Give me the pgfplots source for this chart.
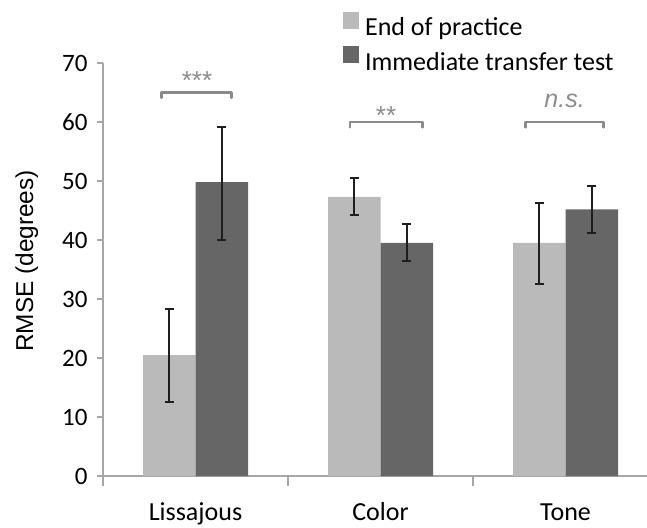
\documentclass[border=0pt]{standalone}
\usepackage{pgfplots}
\pgfplotsset{compat=1.18}
\usepackage{pgfplotstable}
\usepackage{fontspec}
\setmainfont{Carlito}
\newfontfamily\arial{Liberation Sans}
\definecolor{lightbar}{HTML}{BABABA}
\definecolor{darkbar}{HTML}{666666}
\definecolor{axisgray}{HTML}{A6A6A6}
\definecolor{brgray}{HTML}{8A8A8A}
\definecolor{txtgray}{HTML}{8C8C8C}
\definecolor{errc}{HTML}{1E1E1E}

\pgfplotstableread{
x y ep em
0 20.5 7.8 7.9
1 47.3 3.2 3.1
2 39.5 6.8 7.0
}\lighttab
\pgfplotstableread{
x y ep em
0 49.8 9.4 9.8
1 39.5 3.2 3.1
2 45.2 3.9 4.0
}\darktab

\begin{document}
\begin{tikzpicture}
\begin{axis}[
  at={(0,0)}, anchor=south west,
  scale only axis, width=544pt, height=413pt,
  xmin=-0.5, xmax=2.4405, ymin=0, ymax=70,
  clip=false,
  ybar, bar width=52.5pt,
  axis x line*=bottom, axis y line*=left,
  axis line style={draw=axisgray, line width=1.5pt, -},
  xtick={0,1,2}, xticklabels={Lissajous,Color,Tone},
  x tick style={draw=none},
  extra x ticks={-0.5,0.5,1.5},
  extra x tick labels={},
  extra x tick style={major tick length=10pt, x tick style={draw=axisgray, line width=1.5pt}},
  ytick={0,10,...,70},
  y tick style={draw=axisgray, line width=1.5pt},
  tick align=outside, major tick length=6pt,
  /pgf/number format/assume math mode=true,
  yticklabel style={font=\fontsize{25}{28}\selectfont, xshift=-6pt},
  xticklabel style={font=\fontsize{26}{30}\selectfont, anchor=base, yshift=-38pt},
  ylabel={RMSE (degrees)},
  ylabel style={at={(axis description cs:-0.1400,0.5206)}, anchor=center, font=\arial\fontsize{24.4}{28}\selectfont},
  legend style={at={(axis description cs:0.441,1.125)}, anchor=north west, draw=none, fill=none, inner sep=0pt, font=\fontsize{26}{30}\selectfont, row sep=7pt, legend cell align=left},
]
\addplot[bar shift=-26.25pt, fill=lightbar, draw=none,
  legend image code/.code={\fill[lightbar] (0pt,-1pt) rectangle (16pt,16pt);},
  error bars/.cd, y dir=both, y explicit, error mark=-,
  error bar style={line width=1.8pt, draw=errc},
  error mark options={rotate=90, line width=1.8pt, mark size=4.5pt, draw=errc}]
  table[x=x, y=y, y error plus=ep, y error minus=em]{\lighttab};
\addlegendentry{\hspace{4pt}End of practice}
\addplot[bar shift=26.25pt, fill=darkbar, draw=none,
  legend image code/.code={\fill[darkbar] (0pt,-1pt) rectangle (16pt,16pt);},
  error bars/.cd, y dir=both, y explicit, error mark=-,
  error bar style={line width=1.8pt, draw=errc},
  error mark options={rotate=90, line width=1.8pt, mark size=4.5pt, draw=errc}]
  table[x=x, y=y, y error plus=ep, y error minus=em]{\darktab};
\addlegendentry{\hspace{4pt}Immediate transfer test}
% significance brackets
\addplot[sharp plot, brgray, line width=2.7pt, line join=round, line cap=round, forget plot]
  coordinates {(-0.183,64.1) (-0.183,65) (0.195,65) (0.195,64.1)};
\addplot[sharp plot, brgray, line width=2.7pt, line join=round, line cap=round, forget plot]
  coordinates {(0.835,59.1) (0.835,60) (1.228,60) (1.228,59.1)};
\addplot[sharp plot, brgray, line width=2.7pt, line join=round, line cap=round, forget plot]
  coordinates {(1.785,59.1) (1.785,60) (2.207,60) (2.207,59.1)};
\node[anchor=base, font=\arial\fontsize{26}{30}\selectfont, text=txtgray, inner sep=0pt] at (axis cs:0.008,65.5) {***};
\node[anchor=base, font=\arial\fontsize{26}{30}\selectfont, text=txtgray, inner sep=0pt] at (axis cs:1.03,59.6) {**};
\node[anchor=base, font=\arial\itshape\fontsize{25}{30}\selectfont, text=txtgray, inner sep=0pt] at (axis cs:1.995,62.4) {n.s.};
\end{axis}
\pgfresetboundingbox
\path (-103pt,-51pt) rectangle (544pt,476pt);
\end{tikzpicture}
\end{document}
